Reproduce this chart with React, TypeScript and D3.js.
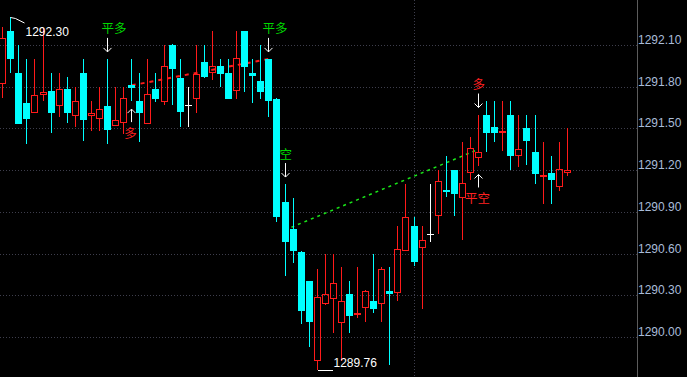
import React from 'react';
import * as d3 from 'd3';

const W = 687;
const H = 377;

const opens = [
  1291.82, 1292.20, 1291.90, 1291.68, 1291.61, 1291.74, 1291.77, 1291.66, 1291.78, 1291.59,
  1291.90, 1291.59, 1291.57, 1291.66, 1291.52, 1291.54, 1291.81, 1291.70, 1291.53, 1291.78,
  1291.69, 1292.10, 1291.86, 1291.67, 1291.71, 1291.98, 1291.90, 1291.95, 1291.90, 1291.77,
  1292.20, 1291.90, 1291.84, 1292.00, 1291.71, 1290.97, 1290.78, 1290.61, 1290.40, 1289.83,
  1290.24, 1290.27, 1290.10, 1290.31, 1290.16, 1290.21, 1290.26, 1290.24, 1290.33, 1290.32,
  1290.62, 1290.80, 1290.64, 1290.74, 1290.87, 1291.06, 1291.20, 1291.00, 1291.18, 1291.29,
  1291.60, 1291.51, 1291.47, 1291.60, 1291.30, 1291.50, 1291.33, 1291.15, 1291.18, 1291.08,
  1291.18,
];
const highs = [
  1292.23, 1292.30, 1292.10, 1292.00, 1292.00, 1292.22, 1291.90, 1291.90, 1291.87, 1291.80,
  1292.00, 1291.70, 1291.80, 1292.00, 1291.80, 1291.80, 1292.00, 1291.90, 1292.00, 1291.90,
  1292.10, 1292.11, 1292.00, 1291.80, 1292.10, 1292.10, 1292.20, 1292.00, 1292.00, 1292.20,
  1292.20, 1292.00, 1292.10, 1292.00, 1291.72, 1291.10, 1291.00, 1290.62, 1290.40, 1290.49,
  1290.60, 1290.60, 1290.50, 1290.40, 1290.50, 1290.34, 1290.60, 1290.50, 1290.50, 1290.80,
  1291.10, 1290.86, 1290.80, 1291.10, 1291.20, 1291.30, 1291.20, 1291.40, 1291.44, 1291.60,
  1291.70, 1291.70, 1291.70, 1291.70, 1291.60, 1291.60, 1291.60, 1291.40, 1291.30, 1291.40,
  1291.50,
];
const lows = [
  1291.72, 1291.90, 1291.53, 1291.39, 1291.61, 1291.70, 1291.47, 1291.58, 1291.54, 1291.51,
  1291.41, 1291.48, 1291.48, 1291.39, 1291.52, 1291.46, 1291.70, 1291.40, 1291.53, 1291.69,
  1291.67, 1291.67, 1291.51, 1291.51, 1291.61, 1291.86, 1291.85, 1291.80, 1291.71, 1291.71,
  1291.76, 1291.68, 1291.71, 1291.58, 1290.83, 1290.44, 1290.53, 1290.09, 1289.93, 1289.76,
  1290.23, 1290.03, 1289.83, 1290.03, 1290.14, 1290.11, 1290.17, 1290.11, 1289.80, 1290.26,
  1290.62, 1290.51, 1290.20, 1290.68, 1290.74, 1291.01, 1290.87, 1290.70, 1291.13, 1291.23,
  1291.33, 1291.40, 1291.34, 1291.20, 1291.22, 1291.24, 1291.10, 1290.96, 1290.96, 1291.05,
  1291.16,
];
const closes = [
  1292.15, 1292.00, 1291.53, 1291.57, 1291.74, 1291.76, 1291.61, 1291.78, 1291.61, 1291.70,
  1291.56, 1291.61, 1291.64, 1291.49, 1291.56, 1291.72, 1291.79, 1291.61, 1291.75, 1291.71,
  1291.95, 1291.93, 1291.62, 1291.67, 1291.89, 1291.87, 1291.95, 1291.89, 1291.71, 1292.01,
  1291.94, 1291.88, 1291.76, 1291.70, 1290.86, 1290.68, 1290.62, 1290.19, 1290.11, 1290.29,
  1290.31, 1290.39, 1290.26, 1290.15, 1290.17, 1290.33, 1290.20, 1290.49, 1290.31, 1290.63,
  1290.86, 1290.54, 1290.70, 1290.74, 1291.12, 1291.05, 1291.03, 1291.11, 1291.36, 1291.33,
  1291.47, 1291.47, 1291.48, 1291.30, 1291.35, 1291.41, 1291.17, 1291.16, 1291.13, 1291.21,
  1291.20,
];

const yTicks = [1290.0, 1290.3, 1290.6, 1290.9, 1291.2, 1291.5, 1291.8, 1292.1];
const separatorIndex = [51];

const signalIndex = [13, 16, 33, 35, 59, 59];
const signalLabel = ['平多', '多', '平多', '空', '多', '平空'];
const signalSide = ['top', 'bottom', 'top', 'top', 'top', 'bottom'];

const tradeFromIndex = [16, 35];
const tradeFromPrice = [1291.81, 1290.77];
const tradeToIndex = [33, 59];
const tradeToPrice = [1292.0, 1291.35];
const tradeKind = ['long', 'short'];

const UP = '#ff1a1a';
const DOWN = '#00ffff';
const DOJI = '#ffffff';
const GRID = '#3e3e4c';
const AXIS_TEXT = '#a9bcd9';
const SIGNAL_COLOR: Record<string, string> = {
  '平多': '#00d800',
  '空': '#00d800',
  '多': '#ff2020',
  '平空': '#ff2020',
};
const TRADE_COLOR: Record<string, string> = { long: '#ff1a1a', short: '#19e619' };

export default function App() {
  const n = opens.length;
  const plotRight = 637;
  const x = d3.scaleLinear().domain([0, n - 1]).range([2.7, 567.3]);
  const y = d3.scaleLinear().domain([1290.0, 1292.1]).range([337, 45]);

  const px = (i: number) => Math.floor(x(i));
  const py = (v: number) => Math.round(y(v));

  const candles = d3.range(n).map((i) => {
    const o = opens[i], c = closes[i], h = highs[i], l = lows[i];
    const cx = px(i);
    const wx = cx + 0.5;
    const yh = py(h), yl = py(l);
    const yt = py(Math.max(o, c)), yb = py(Math.min(o, c));
    if (c === o) {
      return (
        <g key={i} shapeRendering="crispEdges">
          <line x1={wx} x2={wx} y1={yh} y2={yl} stroke={DOJI} />
          <line x1={cx - 3} x2={cx + 4} y1={yt + 0.5} y2={yt + 0.5} stroke={DOJI} />
        </g>
      );
    }
    if (c > o) {
      const flat = yb - yt < 2;
      return (
        <g key={i} shapeRendering="crispEdges">
          <line x1={wx} x2={wx} y1={yh} y2={yt} stroke={UP} />
          <line x1={wx} x2={wx} y1={yb} y2={yl} stroke={UP} />
          {flat ? (
            <rect x={cx - 3} y={yt - 1} width={7} height={2} fill={UP} />
          ) : (
            <rect x={cx - 2.5} y={yt + 0.5} width={6} height={yb - yt - 1} fill="none" stroke={UP} />
          )}
        </g>
      );
    }
    return (
      <g key={i} shapeRendering="crispEdges">
        <line x1={wx} x2={wx} y1={yh} y2={yl} stroke={DOWN} />
        <rect x={cx - 3} y={yt} width={7} height={Math.max(2, yb - yt)} fill={DOWN} />
      </g>
    );
  });

  const hiIdx = d3.maxIndex(highs);
  const loIdx = d3.minIndex(lows);

  const signals = signalIndex.map((idx, k) => {
    const label = signalLabel[k];
    const side = signalSide[k];
    const color = SIGNAL_COLOR[label];
    const wx = px(idx) + 0.5;
    if (side === 'top') {
      const tip = y(highs[idx]) - 7;
      const tail = tip - 14;
      return (
        <g key={'s' + k}>
          <path d={`M${wx},${tail}V${tip}M${wx - 4},${tip - 4}L${wx},${tip}L${wx + 4},${tip - 4}`} stroke="#fff" fill="none" strokeWidth={1} />
          <text x={wx - 6} y={tail - 4.5} fill={color} fontSize={12.5} fontFamily="'Noto Sans CJK SC', sans-serif">{label}</text>
        </g>
      );
    }
    const tip = y(lows[idx]) + 8.5;
    const tail = tip + 13;
    return (
      <g key={'s' + k}>
        <path d={`M${wx},${tail}V${tip}M${wx - 4},${tip + 4}L${wx},${tip}L${wx + 4},${tip + 4}`} stroke="#fff" fill="none" strokeWidth={1} />
        <text x={wx - 1} y={tail + 15.5} textAnchor="middle" fill={color} fontSize={12.5} fontFamily="'Noto Sans CJK SC', sans-serif">{label}</text>
      </g>
    );
  });

  const trades = tradeFromIndex.map((fi, k) => (
    <line
      key={'t' + k}
      x1={x(fi)}
      y1={y(tradeFromPrice[k])}
      x2={x(tradeToIndex[k])}
      y2={y(tradeToPrice[k])}
      stroke={TRADE_COLOR[tradeKind[k]]}
      strokeWidth={tradeKind[k] === 'long' ? 2 : 1.5}
      strokeDasharray={tradeKind[k] === 'long' ? '4,5' : '3,4'}
    />
  ));

  const hx = px(hiIdx) + 0.5;
  const hy = py(highs[hiIdx]) + 0.5;
  const lx = px(loIdx) + 0.5;
  const ly = py(lows[loIdx]) + 0.5;

  return (
    <div style={{ position: 'fixed', left: 0, top: 0, width: W, height: H, background: '#000' }}>
      <svg width={W} height={H} style={{ display: 'block', background: '#000' }}>
        <g shapeRendering="crispEdges">
          {yTicks.map((t) => (
            <line key={'g' + t} x1={0} x2={plotRight} y1={py(t) + 0.5} y2={py(t) + 0.5} stroke={GRID} strokeDasharray="1,2" />
          ))}
          {separatorIndex.map((i) => (
            <line key={'v' + i} x1={px(i) + 0.5} x2={px(i) + 0.5} y1={0} y2={H} stroke={GRID} strokeDasharray="1,2" />
          ))}
          <line x1={plotRight + 0.5} x2={plotRight + 0.5} y1={0} y2={H} stroke="#5c5c5c" />
        </g>
        {yTicks.map((t) => (
          <text key={'l' + t} x={plotRight + 1} y={py(t) - 1.5} fill={AXIS_TEXT} fontSize={12} fontFamily="'Liberation Sans', Arial, sans-serif">
            {t.toFixed(2)}
          </text>
        ))}
        {trades}
        {candles}
        {signals}
        <path d={`M${hx},${hy}L${hx + 5},${hy + 1}L${hx + 14},${hy + 5.5}`} stroke="#fff" fill="none" strokeWidth={1} />
        <text x={hx + 15} y={hy + 18} fill="#fff" fontSize={12} fontFamily="'Liberation Sans', Arial, sans-serif">
          {highs[hiIdx].toFixed(2)}
        </text>
        <line x1={lx} x2={lx + 15} y1={ly} y2={ly} stroke="#fff" shapeRendering="crispEdges" />
        <text x={lx + 16} y={ly - 4} fill="#fff" fontSize={12} fontFamily="'Liberation Sans', Arial, sans-serif">
          {lows[loIdx].toFixed(2)}
        </text>
      </svg>
    </div>
  );
}
